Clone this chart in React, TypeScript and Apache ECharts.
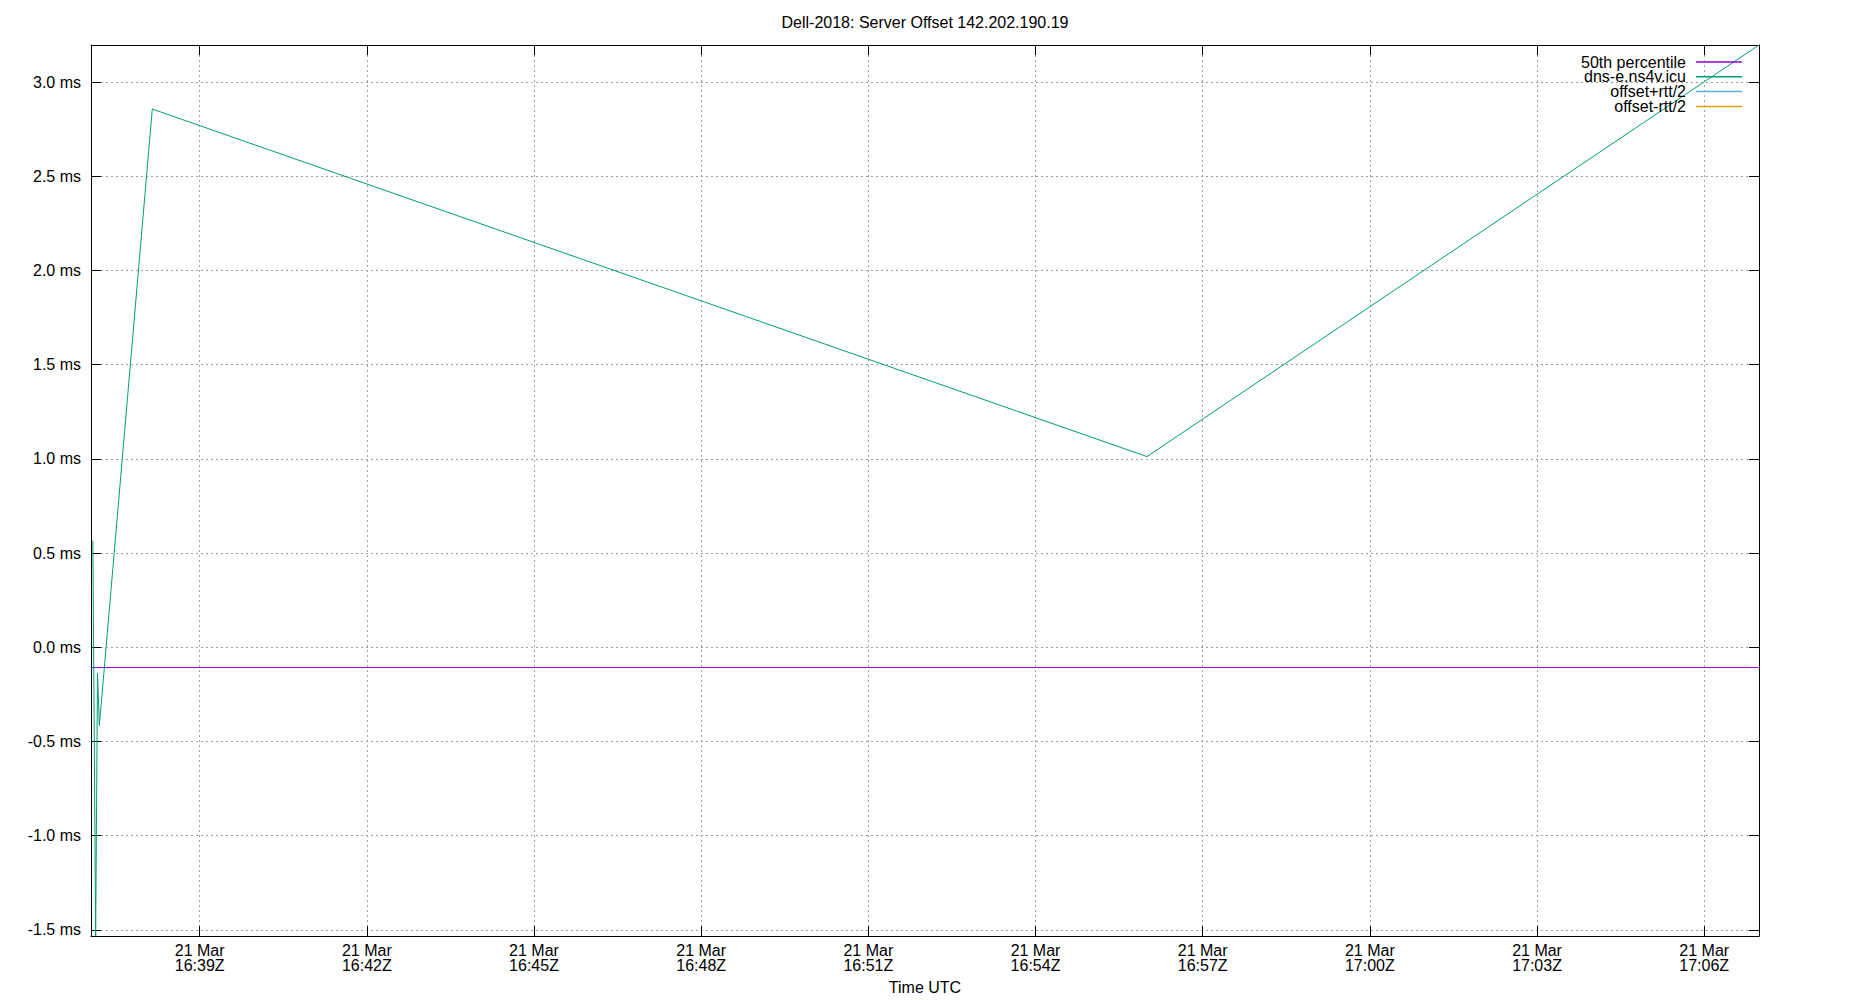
import React, { useEffect, useRef } from "react";
import * as echarts from "echarts";

// ---- data ----
const chartTitle = "Dell-2018: Server Offset 142.202.190.19";
const seriesNames = ["50th percentile", "dns-e.ns4v.icu", "offset+rtt/2", "offset-rtt/2"];
const seriesColors = ["#9400d3", "#009e73", "#56b4e9", "#e69f00"];

const offsetTimes = [
  "2024-03-21T16:37:05Z",
  "2024-03-21T16:37:08Z",
  "2024-03-21T16:37:10Z",
  "2024-03-21T16:37:12Z",
  "2024-03-21T16:38:09Z",
  "2024-03-21T16:56:00Z",
  "2024-03-21T17:06:59Z",
];
const offsetValues = [0.565, -1.533, -0.138, -0.416, 2.857, 1.012, 3.197];
const median50 = -0.108;

const xRange = ["2024-03-21T16:37:03Z", "2024-03-21T17:06:59Z"];
const yRange = [-1.533, 3.197];
const xTickStepMinutes = 3;
const yTickStep = 0.5;
const monthNames = ["Jan", "Feb", "Mar", "Apr", "May", "Jun", "Jul", "Aug", "Sep", "Oct", "Nov", "Dec"];

const FONT = "'Liberation Sans', Arial, sans-serif";

function pad2(n: number) {
  return n < 10 ? "0" + n : "" + n;
}

export default function App() {
  const ref = useRef<HTMLDivElement>(null);

  useEffect(() => {
    if (!ref.current) return;
    const chart = echarts.init(ref.current, undefined, { renderer: "svg" });
    const xMin = Date.parse(xRange[0]);
    const xMax = Date.parse(xRange[1]);
    const xStep = xTickStepMinutes * 60000;

    const xFormatter = (v: number) => {
      if (Math.abs(v % xStep) > 1) return "";
      const d = new Date(v);
      return `${d.getUTCDate()} ${monthNames[d.getUTCMonth()]}\n${pad2(d.getUTCHours())}:${pad2(d.getUTCMinutes())}Z`;
    };
    const yFormatter = (v: number) => {
      const k = v / yTickStep;
      if (Math.abs(k - Math.round(k)) > 1e-6) return "";
      return (Math.round(k) * yTickStep).toFixed(1) + " ms";
    };

    const axisLine = { show: true, onZero: false, lineStyle: { color: "#000", width: 1 } };
    const axisTick = { show: true, inside: true, length: 10, lineStyle: { color: "#000", width: 1 } };
    const splitLine = { show: true, lineStyle: { color: "#a0a0a0", width: 1, type: [2, 3] as any } };

    const option: any = {
      animation: false,
      textStyle: { fontFamily: FONT },
      title: {
        text: chartTitle,
        left: "center",
        top: 8,
        textStyle: { fontSize: 16, fontWeight: "normal", color: "#000", fontFamily: FONT, lineHeight: 18 },
      },
      legend: {
        orient: "vertical",
        right: 103,
        top: 49,
        align: "right",
        icon: "rect",
        itemWidth: 46,
        itemHeight: 1.5,
        itemGap: -1.2,
        selectedMode: false,
        textStyle: { fontSize: 16, lineHeight: 15, color: "#000", fontFamily: FONT, padding: [0, 5, 0, 0] },
        data: seriesNames,
      },
      grid: { left: 91, right: 91, top: 45, bottom: 64, containLabel: false },
      xAxis: [
        {
          type: "value",
          position: "bottom",
          min: xMin,
          max: xMax,
          minInterval: xStep,
          maxInterval: xStep,
          axisLine,
          axisTick,
          splitLine,
          axisLabel: {
            formatter: xFormatter,
            showMinLabel: false,
            showMaxLabel: false,
            color: "#000",
            fontSize: 16,
            lineHeight: 15,
            margin: 7,
            fontFamily: FONT,
          },
          name: "Time UTC",
          nameLocation: "middle",
          nameGap: 43,
          nameTextStyle: { fontSize: 16, color: "#000", fontFamily: FONT },
        },
        {
          type: "value",
          position: "top",
          min: xMin,
          max: xMax,
          minInterval: xStep,
          maxInterval: xStep,
          axisLine,
          axisTick,
          splitLine: { show: false },
          axisLabel: { show: false },
        },
      ],
      yAxis: [
        {
          type: "value",
          position: "left",
          min: yRange[0],
          max: yRange[1],
          minInterval: yTickStep,
          maxInterval: yTickStep,
          axisLine,
          axisTick,
          splitLine,
          axisLabel: {
            formatter: yFormatter,
            showMinLabel: false,
            showMaxLabel: false,
            color: "#000",
            fontSize: 16,
            margin: 10,
            fontFamily: FONT,
          },
        },
        {
          type: "value",
          position: "right",
          min: yRange[0],
          max: yRange[1],
          minInterval: yTickStep,
          maxInterval: yTickStep,
          axisLine,
          axisTick,
          splitLine: { show: false },
          axisLabel: { show: false },
        },
      ],
      series: [
        {
          name: seriesNames[0],
          type: "line",
          symbol: "none",
          color: seriesColors[0],
          lineStyle: { color: seriesColors[0], width: 1 },
          data: [
            [xMin, median50],
            [xMax, median50],
          ],
        },
        {
          name: seriesNames[1],
          type: "line",
          symbol: "none",
          color: seriesColors[1],
          lineStyle: { color: seriesColors[1], width: 1 },
          data: offsetTimes.map((t, i) => [Date.parse(t), offsetValues[i]]),
        },
        {
          name: seriesNames[2],
          type: "line",
          symbol: "none",
          color: seriesColors[2],
          lineStyle: { color: seriesColors[2], width: 1 },
          data: [],
        },
        {
          name: seriesNames[3],
          type: "line",
          symbol: "none",
          color: seriesColors[3],
          lineStyle: { color: seriesColors[3], width: 1 },
          data: [],
        },
      ],
    };
    chart.setOption(option);
    return () => chart.dispose();
  }, []);

  return (
    <div
      ref={ref}
      style={{ position: "absolute", left: 0, top: 0, width: 1850, height: 1000, background: "#fff" }}
    />
  );
}
